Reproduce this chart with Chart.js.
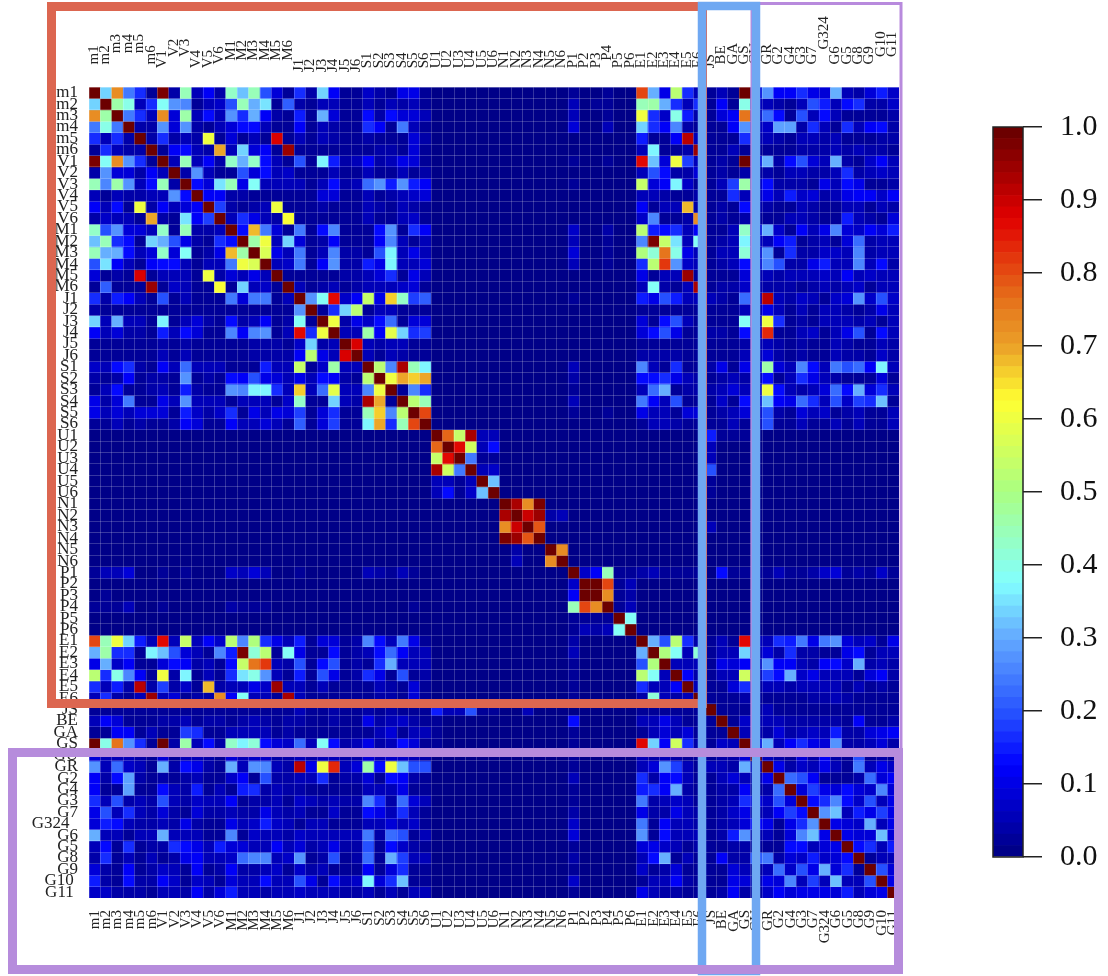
<!DOCTYPE html>
<html lang="en">
<head>
    <meta charset="UTF-8">
    <title>Correlation heatmap</title>
    <script src="https://cdn.jsdelivr.net/npm/chart.js@4"></script>
    <style>
        html, body { margin:0; padding:0; background:#fff; }
        #matrix { position:absolute; left:0; top:0; filter:blur(0.5px); }
        #colorbar { position:absolute; left:960px; top:100px; }
    </style>
</head>
<body>
    <canvas id="matrix" width="1108" height="976"></canvas>
    <canvas id="colorbar" width="148" height="790"></canvas>

    <script>
        const labels = [
            "m1","m2","m3","m4","m5","m6","V1","V2","V3","V4","V5","V6",
            "M1","M2","M3","M4","M5","M6","J1","J2","J3","J4","J5","J6",
            "S1","S2","S3","S4","S5","S6","U1","U2","U3","U4","U5","U6",
            "N1","N2","N3","N4","N5","N6","P1","P2","P3","P4","P5","P6",
            "E1","E2","E3","E4","E5","E6","JS","BE","GA","GS","GU",
            "GR","G2","G4","G3","G7","G324","G6","G5","G8","G9","G10","G11"
        ];

        // Upper triangle of the matrix in percent, each row starts at its own diagonal
        const m1Row = [100,33,73,24,17,3, 98,4,44,5,12,4, 43,32,44,20,9,3, 17,4,33,11,3,3, 7,4,3,10,10,3, 1,1,1,1,1,1, 1,1,1,1,1,1, 3,1,1,2,1,1, 80,30,10,52,17,5, 3,6,3,100, 8, 27,12,12,17,10,9,30,6,4,8,15,7];
        const m2Row = [100,46,40,5,17, 38,27,26,3,5,7, 20,44,30,35,3,21, 4,3,5,5,2,3, 6,3,5,4,6,3, 1,1,1,1,1,1, 1,1,1,1,1,1, 5,1,2,3,1,1, 44,46,30,17,6,17, 3,11,3,40, 5, 5,4,3,5,20,15,6,13,17,4,4,7];
        const m3Row = [100,24,17,5, 73,9,46,5,13,5, 28,17,30,11,4,3, 15,2,30,9,3,3, 13,4,14,8,8,5, 1,1,1,1,1,1, 1,1,1,1,1,1, 5,1,1,2,1,1, 60,17,7,40,15,4, 3,9,11,75, 6, 22,14,3,20,6,13,6,3,3,3,3,4];
        const m4Row = [100,4,4, 27,9,27,4,2,6, 8,13,14,5,3,3, 12,2,5,4,2,2, 16,11,2,24,6,2, 1,1,1,1,1,1, 1,1,1,1,1,1, 8,1,1,5,1,1, 33,17,12,26,4,3, 3,3,11,28, 6, 7,29,29,4,16,5,3,17,6,12,13,4];
        const m5Row = [100,4, 17,4,6,4,60,3, 8,3,6,3,88,3, 5,3,5,4,3,3, 4,3,3,3,9,4, 1,1,1,1,1,1, 1,1,1,1,1,1, 1,1,1,1,1,1, 15,3,3,11,92,5, 3,3,3,17, 4, 5,4,3,5,5,4,6,2,3,3,4,4];
        const m6Row = [100, 3,11,13,6,4,70, 6,33,9,11,3,94, 3,3,3,3,3,3, 2,4,4,2,9,2, 1,1,1,1,1,1, 1,1,1,1,1,1, 1,1,1,1,1,1, 5,36,3,3,4,95, 3,3,5,3, 3, 3,3,3,4,4,4,5,4,5,4,4,3];
        const V1Row = [100,5,45,5,12,4, 43,31,43,13,6,3, 20,3,36,15,4,5, 11,4,6,10,8,3, 1,1,1,1,1,1, 1,1,1,1,1,1, 3,1,1,2,1,1, 86,32,9,60,18,5, 3,4,3,100, 8, 30,4,14,20,9,6,30,4,3,7,11,5];
        const V2Row = [100,4,27,5,3, 3,20,8,13,5,7, 3,3,3,5,2,2, 6,3,3,5,3,4, 1,1,1,1,1,1, 1,1,1,1,1,1, 1,1,1,1,1,1, 6,20,14,4,4,8, 3,4,3,4, 3, 4,3,6,5,4,4,6,17,4,6,7,5];
        const V3Row = [100,13,9,35, 44,10,38,5,5,6, 5,3,5,14,4,6, 22,27,15,28,15,12, 1,1,1,1,1,1, 1,1,1,1,1,1, 3,1,1,1,1,1, 54,9,11,36,7,3, 3,5,18,46, 6, 13,4,4,4,3,10,5,13,10,3,3,4];
        const V4Row = [100,11,12, 4,4,3,3,3,3, 3,3,8,8,3,3, 5,3,4,5,7,8, 1,1,1,1,1,1, 1,1,1,1,1,1, 1,1,1,1,1,1, 5,6,4,3,3,4, 3,3,16,6, 5, 10,5,15,7,8,4,5,10,11,12,7,11];
        const V5Row = [100,18, 4,3,4,6,60,3, 3,3,4,3,2,2, 5,4,3,5,4,3, 1,1,1,1,1,1, 1,1,1,1,1,1, 1,1,1,1,1,1, 11,3,5,6,68,4, 3,4,3,13, 4, 4,3,3,5,4,3,3,5,5,3,5,4];
        const V6Row = [100, 5,16,10,5,4,62, 2,2,3,3,2,2, 6,3,3,5,7,3, 1,1,1,1,1,1, 1,1,1,1,1,1, 1,1,1,1,1,1, 7,25,3,3,4,72, 2,4,3,4, 3, 3,2,5,6,4,3,3,15,5,4,3,8];
        const M1Row = [100,14,68,24,9,3, 24,3,14,25,3,3, 3,14,27,2,16,11, 1,1,1,1,1,1, 1,1,1,1,1,1, 7,1,1,4,1,1, 53,15,14,16,6,11, 3,3,5,43, 8, 30,7,3,12,5,10,26,9,7,11,8,15];
        const M2Row = [100,46,60,5,33, 9,3,4,12,3,3, 2,12,26,5,3,6, 1,1,1,1,1,1, 1,1,1,1,1,1, 6,1,1,3,1,1, 25,97,54,35,5,38, 3,4,5,36, 6, 6,12,15,3,4,5,3,8,22,4,6,6];
        const M3Row = [100,57,10,5, 24,3,6,25,4,4, 3,20,37,5,10,5, 1,1,1,1,1,1, 1,1,1,1,1,1, 8,1,1,3,1,1, 50,42,75,40,10,6, 3,5,6,42, 7, 28,3,16,4,4,7,7,5,25,4,6,6];
        const M4Row = [100,6,7, 24,3,12,27,4,4, 15,10,36,6,5,8, 1,1,1,1,1,1, 1,1,1,1,1,1, 6,1,1,3,1,1, 17,53,82,27,7,6, 3,4,5,13, 7, 26,19,4,4,10,15,6,6,25,5,13,4];
        const M5Row = [100,3, 3,3,3,3,4,4, 5,9,16,3,10,6, 1,1,1,1,1,1, 1,1,1,1,1,1, 1,1,1,1,1,1, 10,3,6,6,94,3, 3,3,3,8, 4, 6,4,5,5,6,7,5,11,5,7,5,6];
        const M6Row = [100, 6,3,4,6,3,4, 6,5,5,7,8,3, 1,1,1,1,1,1, 1,1,1,1,1,1, 1,1,1,1,1,1, 5,38,4,3,5,93, 3,4,4,7, 4, 4,4,4,3,4,5,4,5,7,3,5,5];
        const J1Row = [100,28,38,87,7,11, 54,10,66,43,18,21, 1,1,1,1,1,1, 1,1,1,1,1,1, 2,1,1,1,1,1, 15,10,20,15,6,5, 5,4,3,22, 6, 92,5,4,7,6,3,7,8,28,7,20,7];
        const J2Row = [100,3,17,33,52, 3,5,6,3,3,3, 1,1,1,1,1,1, 1,1,1,1,1,1, 1,1,1,1,1,1, 3,3,3,3,3,3, 3,3,3,6, 4, 10,6,3,6,3,5,5,4,2,4,10,5];
        const J3Row = [100,60,4,10, 7,13,23,3,9,8, 1,1,1,1,1,1, 1,1,1,1,1,1, 1,1,1,1,1,1, 8,2,14,20,6,3, 3,3,3,38, 6, 60,17,3,4,3,5,5,6,4,5,3,5];
        const J4Row = [100,6,5, 46,11,58,33,17,18, 1,1,1,1,1,1, 1,1,1,1,1,1, 1,1,1,1,1,1, 8,13,20,10,3,3, 4,4,3,14, 6, 83,3,3,5,7,3,5,10,20,3,13,5];
        const J5Row = [100,88, 5,4,6,5,3,3, 1,1,1,1,1,1, 1,1,1,1,1,1, 1,1,1,1,1,1, 3,3,3,3,3,3, 3,3,3,4, 4, 5,4,3,4,3,3,5,4,2,2,6,4];
        const J6Row = [100, 5,3,5,4,3,3, 1,1,1,1,1,1, 1,1,1,1,1,1, 1,1,1,1,1,1, 4,4,4,4,3,3, 3,3,3,5, 4, 8,4,3,4,3,3,5,4,4,3,7,4];
        const S1Row = [100,53,25,93,44,37, 1,1,1,1,1,1, 1,1,1,1,1,1, 5,1,1,1,1,1, 25,5,3,17,3,3, 4,10,3,10, 8, 46,9,5,25,14,5,24,19,22,11,36,5];
        const S2Row = [100,60,70,66,70, 1,1,1,1,1,1, 1,1,1,1,1,1, 4,1,1,1,1,1, 14,13,16,10,5,4, 3,4,6,4, 5, 13,2,6,16,10,5,4,3,3,3,9,3];
        const S3Row = [100,3,25,17, 1,1,1,1,1,1, 1,1,1,1,1,1, 2,1,1,1,1,1, 5,23,30,3,4,4, 4,6,9,5, 7, 60,13,6,4,5,9,23,13,30,9,17,5];
        const S4Row = [100,53,45, 1,1,1,1,1,1, 1,1,1,1,1,1, 5,1,1,1,1,1, 24,12,6,20,3,3, 3,7,3,13, 7, 32,12,10,23,17,5,20,7,18,17,32,2];
        const S5Row = [100,80, 1,1,1,1,1,1, 1,1,1,1,1,1, 2,1,1,2,1,1, 10,5,5,2,8,8, 3,4,5,9, 5, 20,4,3,9,5,7,3,4,5,3,3,6];
        const S6Row = [100, 1,1,1,1,1,1, 1,1,1,1,1,1, 1,1,1,1,1,1, 3,5,5,4,3,3, 2,3,5,3, 4, 20,3,3,5,3,3,5,3,5,3,3,6];
        const U1Row = [100,78,54,93,5,6, 1,1,1,1,1,1, 1,1,1,1,1,1, 1,1,1,1,1,1, 15,2,2,2, 1, 1,1,1,1,1,1,1,1,1,1,1,1];
        const U2Row = [100,87,55,6,13, 1,1,1,1,1,1, 1,1,1,1,1,1, 1,1,1,1,1,1, 5,1,1,1, 1, 1,1,1,1,1,1,1,1,1,1,1,1];
        const U3Row = [100,24,2,2, 1,1,1,1,1,1, 1,1,1,1,1,1, 1,1,1,1,1,1, 5,1,1,1, 1, 1,1,1,1,1,1,1,1,1,1,1,1];
        const U4Row = [100,5,7, 1,1,1,1,1,1, 1,1,1,1,1,1, 1,1,1,1,1,1, 20,1,1,1, 1, 1,1,1,1,1,1,1,1,1,1,1,1];
        const U5Row = [100,32, 1,1,1,1,1,1, 1,1,1,1,1,1, 1,1,1,1,1,1, 2,1,1,1, 1, 1,1,1,1,1,1,1,1,1,1,1,1];
        const U6Row = [100, 1,1,1,1,1,1, 1,1,1,1,1,1, 1,1,1,1,1,1, 2,1,1,1, 1, 1,1,1,1,1,1,1,1,1,1,1,1];
        const N1Row = [100,93,73,98,1,1, 1,1,1,1,1,1, 1,1,1,1,1,1, 1,1,1,1, 1, 1,1,1,1,1,1,1,1,1,1,1,1];
        const N2Row = [100,90,95,4,6, 1,1,1,1,1,1, 1,1,1,1,1,1, 1,1,1,1, 1, 1,1,1,1,1,1,1,1,1,1,1,1];
        const N3Row = [100,79,1,1, 1,1,1,1,1,1, 1,1,1,1,1,1, 5,1,1,1, 1, 1,1,1,1,1,1,1,1,1,1,1,1];
        const N4Row = [100,1,1, 1,1,1,1,1,1, 1,1,1,1,1,1, 1,1,1,1, 1, 1,1,1,1,1,1,1,1,1,1,1,1];
        const N5Row = [100,72, 1,1,1,1,1,1, 1,1,1,1,1,1, 1,1,1,1, 1, 1,1,1,1,1,1,1,1,1,1,1,1];
        const N6Row = [100, 1,1,1,1,1,1, 1,1,1,1,1,1, 1,1,1,1, 1, 1,1,1,1,1,1,1,1,1,1,1,1];
        const P1Row = [100,7,11,45,2,2, 4,5,3,3,2,2, 1,13,2,2, 3, 2,5,2,2,4,7,8,3,4,3,7,3];
        const P2Row = [100,100,80,2,6, 1,1,1,1,1,1, 1,1,1,1, 1, 1,1,1,1,1,1,1,1,1,1,1,1];
        const P3Row = [100,72,2,4, 1,1,1,1,1,1, 1,1,1,1, 1, 1,1,1,1,1,1,1,1,1,1,1,1];
        const P4Row = [100,3,5, 1,1,1,1,1,1, 1,1,1,1, 1, 1,1,1,1,1,1,1,1,1,1,1,1];
        const P5Row = [100,38, 1,1,1,1,1,1, 1,1,1,1, 1, 1,1,1,1,1,1,1,1,1,1,1,1];
        const P6Row = [100, 1,1,1,1,1,1, 1,1,1,1, 1, 1,1,1,1,1,1,1,1,1,1,1,1];
        const E1Row = [100,31,20,53,16,4, 3,5,3,87, 5, 5,16,15,24,10,24,27,9,5,7,3,10];
        const E2Row = [100,50,38,5,41, 3,5,5,33, 4, 9,4,16,4,4,3,3,10,14,3,6,6];
        const E3Row = [100,5,6,5, 3,10,8,12, 5, 27,11,12,6,4,11,13,7,30,4,6,4];
        const E4Row = [100,11,4, 3,5,6,55, 4, 18,14,30,7,10,5,6,5,2,8,12,4];
        const E5Row = [100,5, 3,3,9,17, 3, 5,5,4,6,5,5,5,3,5,2,4,3];
        const E6Row = [100, 3,3,3,4, 3, 3,3,3,3,4,4,5,4,3,3,3,3];
        const JSRow = [100,3,2,3, 3, 5,3,3,3,3,3,3,3,3,2,2,2];
        const BERow = [100,3,7, 4, 6,5,4,4,4,4,4,3,12,3,3,4];
        const GARow = [100,6, 4, 4,9,4,5,7,6,15,4,4,9,10,12];
        const GSRow = [100, 8, 30,5,11,16,10,8,28,4,4,6,8,4];
        const GURow = [100, 6,4,3,8,4,12,4,3,20,3,4,3];
        const GRRow = [100,10,4,7,5,10,6,3,24,5,10,7];
        const G2Row = [100,22,20,12,3,3,3,4,22,8,12];
        const G4Row = [100,8,18,10,9,14,9,7,25,8];
        const G3Row = [100,13,17,25,13,7,20,6,10];
        const G7Row = [100,28,32,6,15,10,18,10];
        const G324Row = [100,10,9,7,30,5,10];
        const G6Row = [100,10,9,8,32,8];
        const G5Row = [100,13,17,5,15];
        const G8Row = [100,2,6,6];
        const G9Row = [100,20,8];
        const G10Row = [100,10];
        const G11Row = [100];

        const upperRows = [
            m1Row,m2Row,m3Row,m4Row,m5Row,m6Row,V1Row,V2Row,V3Row,V4Row,V5Row,V6Row,
            M1Row,M2Row,M3Row,M4Row,M5Row,M6Row,J1Row,J2Row,J3Row,J4Row,J5Row,J6Row,
            S1Row,S2Row,S3Row,S4Row,S5Row,S6Row,U1Row,U2Row,U3Row,U4Row,U5Row,U6Row,
            N1Row,N2Row,N3Row,N4Row,N5Row,N6Row,P1Row,P2Row,P3Row,P4Row,P5Row,P6Row,
            E1Row,E2Row,E3Row,E4Row,E5Row,E6Row,JSRow,BERow,GARow,GSRow,GURow,
            GRRow,G2Row,G4Row,G3Row,G7Row,G324Row,G6Row,G5Row,G8Row,G9Row,G10Row,G11Row
        ];

        // The labels on the top axis are not level in the original, this is how far each one sits up
        const topLift = [
            2,2,5,5,5,2, 1,4,4,1,1,2, 3,3,3,3,3,3, 0,0,0,0,0,0, 1,1,1,1,1,1, 1,1,1,1,1,1,
            1,1,1,1,1,1, 1,1,1,3,1,1, 1,1,1,1,1,1, 1,2,2,2,2, 2,2,2,2,2,6,2,2,2,2,4,4
        ];
        // Same for a few labels on the left axis
        const leftShift = { G324: 2, G10: 1, G11: 1 };

        const colorbarTicks = [0, 0.1, 0.2, 0.3, 0.4, 0.5, 0.6, 0.7, 0.8, 0.9, 1];
        const colorStops = [0, 0.125, 0.2, 0.3, 0.375, 0.5, 0.625, 0.7, 0.75, 0.875, 1];
        const colorValues = [
            [0,0,128],[0,0,255],[40,85,255],[100,170,255],[130,255,255],[170,255,130],
            [255,255,50],[235,160,40],[230,125,30],[225,0,0],[100,0,0]
        ];
        const levelCount = 64;

        Chart.defaults.font.family = "'Liberation Serif'";
        Chart.defaults.color = "#222";
        Chart.defaults.animation = false;

        // Colour of a value on the banded colour scale
        function levelColor(value) {
            const level = Math.min(levelCount - 1, Math.floor(value * levelCount));
            const v = (level + 0.5) / levelCount;
            let i = 0;
            while (i < colorStops.length - 2 && v > colorStops[i + 1]) i++;
            const t = (v - colorStops[i]) / (colorStops[i + 1] - colorStops[i]);
            const c = colorValues[i].map((a, k) => Math.round(a + (colorValues[i + 1][k] - a) * t));
            return `rgb(${c[0]},${c[1]},${c[2]})`;
        }

        // Mirrors the upper triangle into a full row
        function cellValue(row, col) {
            const a = Math.min(row, col);
            return upperRows[a][Math.abs(row - col)] / 100;
        }

        // The coloured boxes lying over the matrix
        const frames = [
            { x: 752, y: 3.5, w: 149, h: 750, width: 3, color: "#B88ADD" },
            { x: 51.5, y: 6.5, w: 651, h: 697, width: 9, color: "#DC6650" },
            { x: 702, y: 6, w: 54, h: 965, width: 8.5, color: "#6FA8F2" },
            { x: 12.5, y: 752.5, w: 886, h: 217, width: 9, color: "#B68CDC" }
        ];

        const framesPlugin = {
            id: "frames",
            afterDraw(chart) {
                const ctx = chart.ctx;
                ctx.save();
                for (const f of frames) {
                    ctx.strokeStyle = f.color;
                    ctx.lineWidth = f.width;
                    ctx.strokeRect(f.x, f.y, f.w, f.h);
                }
                ctx.restore();
            }
        };

        const seamGrid = { z: 1, color: "rgba(255,255,255,0.2)", lineWidth: 1, drawTicks: false };

        new Chart(document.getElementById("matrix"), {
            type: "bar",
            data: {
                labels: labels,
                datasets: labels.map((name, row) => ({
                    label: name,
                    data: labels.map(() => [row, row + 1]),
                    backgroundColor: labels.map((_, col) => levelColor(cellValue(row, col))),
                    barPercentage: 1,
                    categoryPercentage: 1,
                    grouped: false
                }))
            },
            options: {
                responsive: false,
                layout: { padding: { right: 209 } },
                plugins: { legend: { display: false }, tooltip: { enabled: false } },
                scales: {
                    x: {
                        type: "category",
                        position: "bottom",
                        offset: true,
                        border: { display: false },
                        grid: { ...seamGrid, offset: true },
                        ticks: { font: { size: 15 }, autoSkip: false, minRotation: 90, maxRotation: 90, padding: 12 },
                        afterFit(scale) { scale.height = 78; }
                    },
                    xTop: {
                        type: "category",
                        position: "top",
                        offset: true,
                        border: { display: false },
                        grid: { display: false, drawTicks: false },
                        ticks: {
                            font: { size: 15 }, autoSkip: false, minRotation: 90, maxRotation: 90, padding: 15, labelOffset: 17,
                            callback(value, index) { return " ".repeat(topLift[index]) + labels[index]; }
                        },
                        afterFit(scale) { scale.height = 87; }
                    },
                    y: {
                        type: "linear",
                        position: "left",
                        reverse: true,
                        min: 0,
                        max: labels.length,
                        border: { display: false },
                        grid: seamGrid,
                        ticks: { display: false, stepSize: 1, autoSkip: false, maxTicksLimit: 100 },
                        afterFit(scale) { scale.width = 0; }
                    },
                    yLabels: {
                        type: "category",
                        position: "left",
                        labels: labels,
                        offset: true,
                        border: { display: false },
                        grid: { display: false, drawTicks: false },
                        ticks: {
                            font: { size: 17 }, autoSkip: false, padding: 11,
                            callback(value, index) { return labels[index] + " ".repeat(leftShift[labels[index]] || 0); }
                        },
                        afterFit(scale) { scale.width = 89; }
                    }
                }
            },
            plugins: [framesPlugin]
        });

        // Colour bar, one floating bar per level of the scale
        const levels = [];
        for (let i = 0; i < levelCount; i++) levels.push(i);

        const outlinePlugin = {
            id: "outline",
            afterDatasetsDraw(chart) {
                const { ctx, chartArea } = chart;
                ctx.save();
                ctx.strokeStyle = "#222";
                ctx.lineWidth = 1.5;
                ctx.strokeRect(chartArea.left, chartArea.top, chartArea.right - chartArea.left, chartArea.bottom - chartArea.top);
                ctx.restore();
            }
        };

        new Chart(document.getElementById("colorbar"), {
            type: "bar",
            data: {
                labels: ["level"],
                datasets: levels.map(i => ({
                    data: [[i / levelCount, (i + 1) / levelCount]],
                    backgroundColor: levelColor((i + 0.5) / levelCount),
                    barPercentage: 1,
                    categoryPercentage: 1,
                    grouped: false
                }))
            },
            options: {
                responsive: false,
                layout: { padding: { left: 33, top: 27, bottom: 33 } },
                plugins: { legend: { display: false }, tooltip: { enabled: false } },
                scales: {
                    x: { display: false },
                    y: {
                        position: "right",
                        min: 0,
                        max: 1,
                        border: { display: false },
                        grid: { drawOnChartArea: false, color: "#222", lineWidth: 1.5, tickLength: 19 },
                        afterBuildTicks(scale) { scale.ticks = colorbarTicks.map(v => ({ value: v })); },
                        ticks: {
                            font: { size: 30 }, color: "#111", padding: 18,
                            callback(value) { return value.toFixed(1); }
                        },
                        afterFit(scale) { scale.width = 85; scale.paddingTop = 0; scale.paddingBottom = 0; }
                    }
                }
            },
            plugins: [outlinePlugin]
        });
    </script>
</body>
</html>
